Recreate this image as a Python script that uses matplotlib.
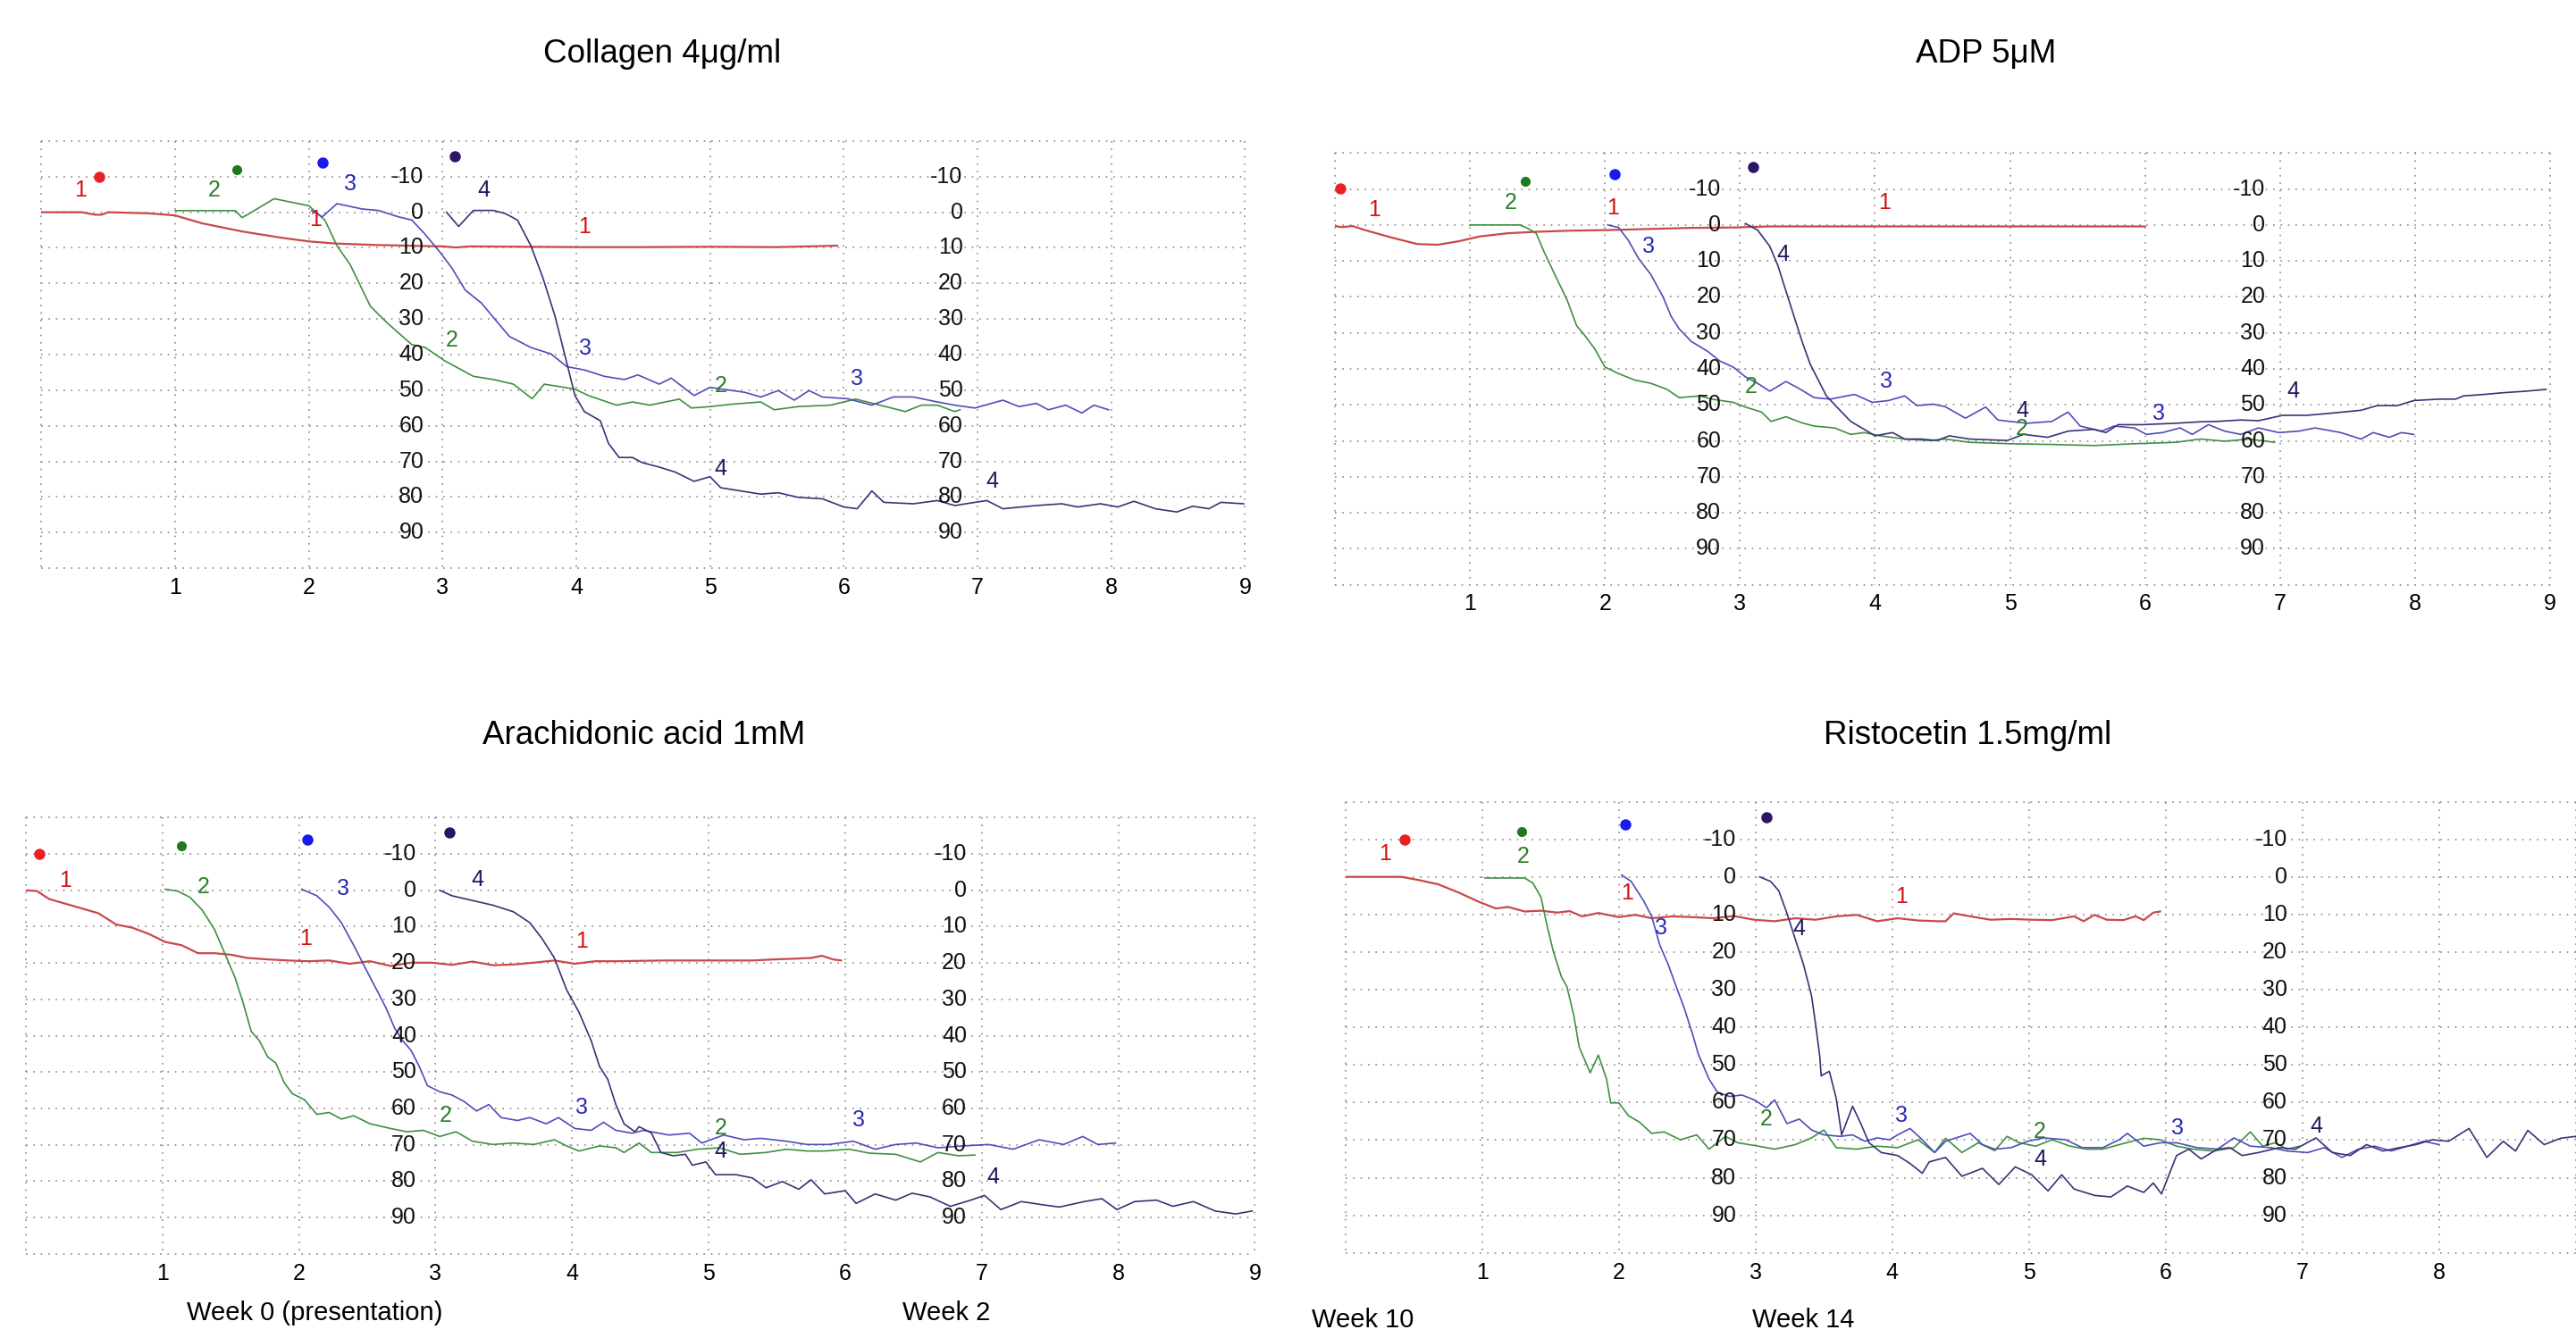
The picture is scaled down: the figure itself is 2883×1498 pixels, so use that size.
import matplotlib
matplotlib.use('Agg')
import matplotlib.pyplot as plt

plt.rcParams['font.family'] = ['Liberation Sans', 'DejaVu Sans']

# ---- Collagen 4ug/ml (week 0) ----
col_t1 = [0, 0.3, 0.4, 0.45, 0.5, 0.8, 1.0, 1.2, 1.5, 1.8, 2.0, 2.2, 2.5, 3.0, 3.1, 3.2, 4.0, 4.5, 5.0, 5.5, 5.95]
col_v1 = [0, 0, 0.7, 0.7, 0, 0.3, 0.9, 3.1, 5.4, 7.2, 8.2, 8.8, 9.2, 9.6, 9.9, 9.6, 9.8, 9.8, 9.7, 9.8, 9.4]
col_t2 = [1.0, 1.45, 1.5, 1.55, 1.74, 2.0, 2.12, 2.21, 2.31, 2.46, 2.58, 2.77, 2.87, 3.01, 3.23, 3.38, 3.53, 3.67,
          3.76, 3.99, 4.09, 4.3, 4.42, 4.55, 4.77, 4.86, 5.0, 5.17, 5.38, 5.48, 5.66, 5.9, 6.09, 6.27, 6.46, 6.58,
          6.7, 6.83, 6.87]
col_v2 = [-0.45, -0.45, 1.5, 0.5, -3.8, -1.8, 2.2, 9.4, 14.8, 26.4, 30.9, 37.2, 38.0, 41.6, 46.1, 47.0, 48.3, 52.4,
          48.3, 49.7, 51.5, 54.2, 53.3, 54.2, 52.5, 55.0, 54.6, 53.9, 53.3, 55.5, 54.6, 54.2, 52.5, 54.2, 56.0, 54.2,
          54.2, 56.0, 55.5]
col_t3 = [2.02, 2.1, 2.21, 2.4, 2.52, 2.67, 2.77, 2.86, 2.98, 3.07, 3.17, 3.29, 3.41, 3.5, 3.66, 3.81, 3.93, 4.06,
          4.21, 4.36, 4.46, 4.62, 4.71, 4.88, 5.0, 5.26, 5.38, 5.51, 5.63, 5.74, 5.84, 6.03, 6.21, 6.37, 6.52, 6.7,
          6.83, 6.98, 7.19, 7.31, 7.44, 7.53, 7.66, 7.78, 7.87, 7.98]
col_v3 = [-0.5, 1.3, -2.4, -0.9, -0.5, 1.3, 2.2, 5.8, 11.2, 15.7, 21.9, 25.5, 30.9, 34.9, 38.0, 39.8, 43.4, 44.3,
          46.1, 47.0, 45.7, 48.3, 46.6, 51.5, 49.2, 50.6, 51.9, 50.1, 52.8, 50.1, 51.9, 52.4, 54.2, 51.9, 51.9, 53.3,
          54.2, 55.0, 52.8, 54.6, 53.7, 55.5, 54.2, 56.4, 54.2, 55.5]
col_t4 = [3.03, 3.12, 3.23, 3.38, 3.47, 3.56, 3.66, 3.75, 3.84, 3.9, 3.96, 3.99, 4.06, 4.18, 4.24, 4.32, 4.42, 4.49,
          4.62, 4.74, 4.88, 5.0, 5.08, 5.23, 5.38, 5.51, 5.66, 5.84, 6.0, 6.1, 6.21, 6.3, 6.52, 6.7, 6.83, 6.98, 7.07,
          7.19, 7.44, 7.63, 7.75, 7.92, 8.05, 8.17, 8.33, 8.49, 8.61, 8.73, 8.82, 8.99]
col_v4 = [0, 4.0, -0.5, -0.5, 0.4, 2.2, 9.4, 18.4, 29.1, 38.0, 47.0, 51.5, 56.0, 58.6, 64.9, 68.9, 68.9, 70.3,
          71.6, 73.0, 75.6, 74.3, 77.4, 78.3, 79.2, 78.8, 80.1, 80.5, 82.8, 83.3, 78.3, 81.5, 81.9, 81.0, 82.4, 81.5,
          81.0, 83.3, 82.4, 81.9, 82.8, 81.9, 82.8, 81.2, 83.3, 84.2, 82.6, 83.3, 81.5, 81.9]

# ---- ADP 5uM (week 2) ----
adp_t1 = [0, 0.05, 0.13, 0.22, 0.43, 0.61, 0.76, 0.92, 1.07, 1.28, 1.49, 1.73, 2.04, 2.34, 2.64, 2.95, 3.22, 6.0]
adp_v1 = [0.3, 0.6, 0.3, 1.4, 3.6, 5.3, 5.5, 4.5, 3.2, 2.3, 1.9, 1.6, 1.4, 1.1, 0.8, 0.7, 0.4, 0.4]
adp_t2 = [1.0, 1.37, 1.43, 1.49, 1.55, 1.64, 1.72, 1.79, 1.85, 1.92, 2.0, 2.1, 2.22, 2.34, 2.46, 2.55, 2.7, 2.79,
          2.95, 3.04, 3.16, 3.23, 3.34, 3.46, 3.55, 3.7, 3.82, 3.92, 4.04, 4.22, 4.4, 4.52, 4.7, 5.0, 5.31, 5.62,
          5.92, 6.23, 6.41, 6.59, 6.77, 6.96]
adp_v2 = [0, 0, 1.0, 2.3, 7.6, 14.7, 20.9, 28.0, 30.7, 34.2, 39.5, 41.3, 43.1, 44.0, 45.7, 48.0, 47.5, 48.4,
          49.3, 50.6, 52.0, 54.6, 53.3, 55.0, 55.9, 56.4, 58.2, 57.7, 58.6, 59.5, 59.9, 59.5, 60.4, 60.8, 61.0, 61.3,
          60.8, 60.4, 59.5, 60.1, 59.5, 60.4]
adp_t3 = [2.02, 2.1, 2.17, 2.25, 2.34, 2.43, 2.49, 2.55, 2.64, 2.76, 2.85, 2.95, 3.04, 3.13, 3.22, 3.34, 3.43, 3.55,
          3.67, 3.79, 3.85, 3.98, 4.1, 4.22, 4.31, 4.43, 4.52, 4.67, 4.82, 4.91, 5.0, 5.13, 5.31, 5.43, 5.52, 5.68,
          5.77, 5.92, 6.01, 6.13, 6.26, 6.35, 6.47, 6.59, 6.71, 6.84, 6.99, 7.14, 7.26, 7.45, 7.6, 7.69, 7.81, 7.9, 7.99]
adp_v3 = [0, 0.7, 4.1, 9.4, 13.8, 20.0, 25.4, 28.9, 32.4, 35.1, 37.8, 39.5, 42.2, 44.0, 46.2, 43.5, 45.3, 48.0,
          48.4, 47.5, 47.1, 49.3, 48.8, 47.5, 50.2, 49.8, 50.5, 53.7, 50.6, 54.2, 54.6, 55.1, 54.6, 52.0, 55.9, 57.3,
          55.9, 56.4, 58.2, 57.7, 56.4, 58.2, 55.5, 57.3, 58.2, 56.4, 57.7, 57.3, 56.4, 57.7, 59.5, 57.7, 59.0, 57.7, 58.2]
adp_t4 = [3.04, 3.13, 3.22, 3.28, 3.34, 3.4, 3.46, 3.52, 3.58, 3.64, 3.73, 3.82, 3.92, 4.0, 4.13, 4.22, 4.34, 4.46,
          4.55, 4.7, 4.98, 5.1, 5.28, 5.43, 5.62, 5.71, 5.8, 5.98, 6.23, 6.41, 6.53, 6.71, 6.84, 7.02, 7.2, 7.38,
          7.6, 7.72, 7.87, 7.99, 8.18, 8.3, 8.36, 8.51, 8.66, 8.82, 8.97]
adp_v4 = [-0.4, 1.4, 5.9, 11.2, 18.3, 25.4, 32.4, 38.7, 43.1, 47.5, 51.1, 54.6, 56.8, 58.6, 57.7, 59.5, 59.5, 59.9,
          58.6, 59.5, 59.9, 58.2, 59.0, 57.3, 56.8, 57.7, 55.5, 55.5, 55.1, 54.7, 54.6, 54.2, 54.4, 52.9, 52.9, 52.3,
          51.5, 50.2, 50.2, 48.8, 48.4, 48.4, 47.5, 47.1, 46.6, 46.2, 45.7]

# ---- Arachidonic acid 1mM (week 10) ----
aa_t1 = [0, 0.08, 0.17, 0.29, 0.41, 0.53, 0.66, 0.78, 0.9, 1.02, 1.14, 1.26, 1.38, 1.5, 1.62, 1.77, 1.92, 2.07,
         2.22, 2.37, 2.52, 2.67, 2.82, 2.97, 3.12, 3.27, 3.42, 3.57, 3.72, 3.87, 4.02, 4.17, 4.32, 4.68, 5.0, 5.32,
         5.48, 5.63, 5.75, 5.83, 5.91, 5.97]
aa_v1 = [0, 0.2, 2.4, 3.7, 5.0, 6.3, 9.4, 10.3, 12.0, 14.2, 15.1, 17.3, 17.3, 17.7, 18.6, 19.0, 19.3, 19.5,
         19.3, 20.2, 19.5, 20.8, 19.9, 19.9, 20.5, 19.6, 20.6, 20.4, 19.9, 19.3, 20.2, 19.5, 19.5, 19.3, 19.3, 19.3,
         19.0, 18.8, 18.6, 18.0, 19.0, 19.3]
aa_t2 = [1.02, 1.11, 1.2, 1.29, 1.38, 1.45, 1.53, 1.59, 1.65, 1.71, 1.77, 1.83, 1.89, 1.95, 2.04, 2.13, 2.22, 2.31,
         2.4, 2.52, 2.67, 2.79, 2.91, 3.03, 3.15, 3.27, 3.42, 3.57, 3.72, 3.87, 3.96, 4.05, 4.2, 4.32, 4.38, 4.49,
         4.58, 4.77, 4.92, 5.08, 5.23, 5.42, 5.57, 5.72, 5.85, 6.03, 6.18, 6.37, 6.55, 6.68, 6.83, 6.95]
aa_v2 = [-0.3, 0.2, 1.9, 5.4, 10.7, 16.8, 23.9, 30.9, 38.8, 41.4, 45.8, 47.5, 52.8, 55.9, 57.6, 61.6, 61.1, 62.9,
         62.0, 64.2, 65.5, 66.4, 66.0, 67.7, 66.4, 69.0, 69.9, 69.5, 69.9, 68.6, 70.3, 71.7, 70.3, 70.8, 72.1, 69.5,
         72.1, 72.1, 71.2, 70.8, 72.6, 72.1, 71.2, 71.7, 71.7, 71.2, 72.3, 72.6, 74.7, 72.1, 73.0, 72.8]
aa_t3 = [2.02, 2.13, 2.22, 2.31, 2.4, 2.46, 2.52, 2.58, 2.64, 2.7, 2.76, 2.82, 2.88, 2.94, 3.03, 3.12, 3.21, 3.3,
         3.39, 3.48, 3.6, 3.69, 3.81, 3.9, 4.02, 4.14, 4.23, 4.32, 4.44, 4.52, 4.71, 4.86, 4.95, 5.11, 5.26, 5.38,
         5.57, 5.72, 5.88, 6.06, 6.22, 6.37, 6.52, 6.68, 6.86, 7.05, 7.23, 7.42, 7.6, 7.74, 7.85, 7.98]
aa_v3 = [-0.3, 1.5, 4.6, 8.9, 15.1, 19.5, 23.9, 28.2, 32.6, 37.9, 41.4, 44.0, 48.4, 53.7, 55.4, 56.3, 58.1, 60.7,
         58.9, 62.5, 63.3, 62.5, 64.2, 62.5, 65.5, 66.0, 63.8, 66.0, 66.8, 66.0, 67.3, 66.8, 69.5, 67.3, 68.6, 68.2,
         69.0, 69.9, 69.9, 69.0, 71.2, 69.9, 69.5, 70.8, 70.3, 69.9, 71.2, 68.6, 69.9, 67.7, 69.9, 69.5]
aa_t4 = [3.03, 3.12, 3.27, 3.42, 3.57, 3.69, 3.78, 3.87, 3.96, 4.05, 4.14, 4.2, 4.26, 4.32, 4.38, 4.46, 4.49, 4.58,
         4.65, 4.74, 4.83, 4.88, 4.98, 5.05, 5.2, 5.32, 5.42, 5.54, 5.66, 5.75, 5.85, 6.0, 6.08, 6.22, 6.37, 6.49,
         6.62, 6.77, 6.92, 7.02, 7.14, 7.29, 7.45, 7.57, 7.75, 7.88, 7.99, 8.12, 8.28, 8.4, 8.55, 8.71, 8.86, 8.98]
aa_v4 = [0, 1.5, 2.8, 4.1, 5.9, 8.9, 13.3, 18.6, 27.4, 33.5, 41.4, 48.4, 51.9, 58.9, 64.2, 66.4, 65.0, 66.7,
         72.1, 73.0, 72.6, 75.6, 74.7, 78.2, 78.2, 79.1, 81.8, 80.1, 82.2, 79.6, 83.5, 82.6, 86.1, 83.5, 85.2, 83.3,
         84.3, 86.9, 85.2, 83.9, 87.8, 85.6, 86.5, 87.1, 85.6, 84.8, 87.8, 85.6, 85.2, 86.9, 85.6, 88.2, 89.0, 88.2]

# ---- Ristocetin 1.5mg/ml (week 14) ----
ris_t1 = [0, 0.41, 0.53, 0.68, 0.83, 0.98, 1.1, 1.19, 1.31, 1.43, 1.55, 1.64, 1.73, 1.85, 2.0, 2.12, 2.24, 2.39,
          2.54, 2.69, 2.84, 2.99, 3.14, 3.29, 3.44, 3.59, 3.74, 3.89, 4.04, 4.19, 4.34, 4.39, 4.45, 4.57, 4.72, 4.87,
          5.02, 5.17, 5.33, 5.4, 5.48, 5.57, 5.69, 5.78, 5.84, 5.91, 5.96]
ris_v1 = [0, 0, 0.8, 2.0, 4.2, 6.7, 8.4, 8.0, 9.2, 9.0, 9.5, 9.1, 10.5, 9.6, 10.7, 10.1, 11.0, 10.5,
          10.7, 11.0, 10.4, 11.4, 11.8, 11.0, 11.4, 10.5, 10.1, 11.8, 11.0, 11.6, 11.8, 11.8, 9.7, 10.5, 11.4, 11.2,
          11.4, 11.5, 10.5, 11.8, 10.1, 11.4, 11.5, 10.5, 11.5, 9.5, 9.2]
ris_t2 = [1.02, 1.31, 1.37, 1.43, 1.47, 1.52, 1.58, 1.62, 1.67, 1.71, 1.76, 1.79, 1.85, 1.91, 1.94, 2.0, 2.07, 2.15,
          2.24, 2.33, 2.45, 2.57, 2.66, 2.78, 2.87, 3.02, 3.14, 3.29, 3.41, 3.5, 3.59, 3.74, 3.89, 4.04, 4.19, 4.31,
          4.39, 4.51, 4.63, 4.75, 4.84, 4.93, 5.05, 5.17, 5.3, 5.42, 5.54, 5.66, 5.84, 5.96, 6.08, 6.2, 6.35, 6.5,
          6.62, 6.71, 6.8, 6.89, 6.98]
ris_v2 = [0.3, 0.3, 1.6, 5.4, 12.2, 19.8, 26.6, 29.2, 36.8, 45.3, 49.5, 52.1, 47.4, 53.8, 60.1, 60.1, 63.5, 65.2,
          68.2, 67.8, 69.9, 68.6, 72.4, 69.0, 70.7, 71.6, 72.4, 71.2, 69.4, 67.3, 72.0, 72.4, 71.6, 72.0, 69.9, 73.3,
          69.5, 73.3, 70.7, 72.8, 69.0, 70.7, 71.6, 69.9, 71.6, 72.4, 72.4, 71.2, 69.5, 69.9, 71.6, 72.4, 72.9, 72.0,
          67.8, 71.6, 70.7, 72.4, 71.6]
ris_t3 = [2.02, 2.09, 2.18, 2.24, 2.3, 2.36, 2.42, 2.48, 2.54, 2.58, 2.66, 2.72, 2.81, 2.9, 2.99, 3.08, 3.14, 3.23,
          3.32, 3.41, 3.5, 3.62, 3.71, 3.8, 3.89, 3.98, 4.04, 4.13, 4.22, 4.31, 4.39, 4.57, 4.66, 4.75, 4.87, 4.99,
          5.11, 5.27, 5.39, 5.54, 5.66, 5.72, 5.84, 5.96, 6.08, 6.23, 6.38, 6.5, 6.62, 6.77, 6.89, 7.04, 7.16, 7.29,
          7.41, 7.53, 7.65, 7.77, 7.89, 8.0]
ris_v3 = [-0.5, 1.2, 6.3, 10.5, 18.2, 23.2, 29.2, 35.1, 41.9, 47.0, 53.8, 57.2, 58.4, 58.0, 59.3, 61.4, 59.3, 65.6,
          64.4, 67.3, 68.6, 69.0, 68.6, 70.3, 69.4, 69.9, 68.6, 66.9, 69.9, 73.3, 70.3, 68.2, 71.2, 72.4, 72.0, 70.3,
          69.4, 69.9, 72.0, 72.0, 69.9, 68.2, 71.6, 70.7, 70.7, 72.0, 72.4, 69.4, 71.6, 72.0, 72.9, 73.3, 72.0, 74.6,
          72.4, 71.6, 72.9, 71.6, 70.3, 71.2]
ris_t4 = [3.03, 3.11, 3.17, 3.23, 3.29, 3.35, 3.41, 3.44, 3.47, 3.48, 3.54, 3.59, 3.63, 3.71, 3.77, 3.83, 3.92, 4.04,
          4.13, 4.22, 4.27, 4.39, 4.51, 4.66, 4.78, 4.9, 5.02, 5.14, 5.24, 5.33, 5.48, 5.6, 5.72, 5.84, 5.91, 5.97,
          6.08, 6.17, 6.26, 6.38, 6.47, 6.56, 6.68, 6.83, 6.95, 7.1, 7.22, 7.35, 7.47, 7.59, 7.71, 7.83, 7.95, 8.07,
          8.22, 8.35, 8.47, 8.56, 8.65, 8.77, 8.89, 9.0]
ris_v4 = [0, 1.2, 3.7, 9.7, 16.5, 23.2, 31.7, 39.4, 47.8, 52.9, 51.7, 58.9, 68.6, 61.0, 65.6, 70.7, 73.3, 74.1,
          76.2, 78.8, 75.8, 74.6, 79.6, 77.5, 81.8, 77.1, 79.2, 83.5, 79.2, 83.0, 84.7, 85.1, 82.2, 83.9, 81.4, 84.3,
          74.1, 72.4, 75.0, 72.4, 72.0, 74.1, 73.3, 72.0, 72.4, 69.4, 73.3, 74.1, 71.2, 72.9, 72.0, 71.2, 69.9, 70.3,
          66.9, 74.6, 70.3, 72.9, 67.4, 71.2, 69.5, 69.0]

titles = ['Collagen 4μg/ml', 'ADP 5μM', 'Arachidonic acid 1mM', 'Ristocetin 1.5mg/ml']
week_labels = ['Week 0 (presentation)', 'Week 2', 'Week 10', 'Week 14']
y_labels = [-10, 0, 10, 20, 30, 40, 50, 60, 70, 80, 90]

# number labels next to the curves: (text, x, y)
col_tags = [('1', 0.29, -6.1), ('2', 1.29, -6.1), ('3', 2.31, -8.0), ('4', 3.31, -6.1), ('1', 2.05, 2.0),
            ('2', 3.07, 36), ('3', 4.07, 38.2), ('1', 4.06, 4.0), ('2', 5.08, 48.8), ('3', 6.1, 46.7),
            ('4', 5.08, 72.2), ('4', 7.11, 75.7)]
adp_tags = [('1', 0.29, -4.3), ('2', 1.3, -6.1), ('1', 2.06, -4.8), ('3', 2.32, 6.1), ('4', 3.32, 8.1),
            ('1', 4.07, -6.1), ('2', 3.08, 45), ('3', 4.08, 43.5), ('4', 5.09, 51.6), ('2', 5.09, 56.6),
            ('3', 6.1, 52.4), ('4', 7.1, 46.2)]
aa_tags = [('1', 0.29, -2.6), ('2', 1.3, -0.9), ('3', 2.32, -0.4), ('4', 3.31, -2.9), ('1', 2.05, 13.3),
           ('2', 3.07, 62), ('1', 4.07, 14), ('3', 4.07, 59.8), ('2', 5.09, 65.5), ('4', 5.09, 71.7),
           ('3', 6.1, 63.3), ('4', 7.08, 79)]
ris_tags = [('1', 0.29, -6), ('2', 1.3, -5.4), ('1', 2.06, 4.4), ('3', 2.31, 13.5), ('4', 3.32, 13.9),
            ('1', 4.07, 5.3), ('2', 3.08, 64.4), ('3', 4.07, 63.5), ('2', 5.08, 67.8), ('4', 5.08, 75),
            ('3', 6.09, 66.9), ('4', 7.1, 66.3)]

# start markers (x, y) for traces 1..4
col_dots = [(0.43, -9.9), (1.46, -12.0), (2.10, -13.9), (3.09, -15.8)]
adp_dots = [(0.04, -10.1), (1.41, -12.1), (2.07, -14.1), (3.1, -16)]
aa_dots = [(0.1, -10.1), (1.14, -12.3), (2.06, -14), (3.1, -15.9)]
ris_dots = [(0.43, -9.8), (1.29, -12), (2.05, -13.9), (3.08, -15.9)]

line_colors = ['#c94848', '#3f8f3f', '#4d4dbb', '#3d3075']
tag_colors = ['#d01515', '#2a7d2a', '#2a2ab5', '#22195c']
dot_colors = ['#e82222', '#1f7a1f', '#1a1aee', '#2e1466']


def draw_panel(ax, traces, tags, dots, nticks):
    ax.set_xlim(0, 9)
    ax.set_ylim(100, -20)
    for s in ax.spines.values():
        s.set_visible(False)
    ax.set_yticks([])
    ax.set_xticks(range(1, nticks + 1))
    ax.set_xticklabels([str(i) for i in range(1, nticks + 1)], fontsize=18)
    ax.tick_params(axis='x', length=0, pad=7)

    ax.hlines(range(-20, 101, 10), 0, 9, colors='#8a8a8a', linestyles=(0, (1, 4)), lw=1.2, clip_on=False)
    ax.vlines(range(0, 10), -20, 100, colors='#8a8a8a', linestyles=(0, (1, 4)), lw=1.2, clip_on=False)

    for xcol in (2.86, 6.89):
        for v in y_labels:
            ax.text(xcol, v, str(v), ha='right', va='center', fontsize=18, color='#111111')

    for i, (t, v) in enumerate(traces):
        ax.plot(t, v, color=line_colors[i], lw=1.6 if i == 0 else 1.2)

    for i, (x, y) in enumerate(dots):
        ax.plot(x, y, 'o', color=dot_colors[i], markersize=8 if i != 1 else 7)

    for txt, x, y in tags:
        ax.text(x, y, txt, ha='center', va='center', fontsize=18, color=tag_colors[int(txt) - 1])


fig = plt.figure(figsize=(28.83, 14.98), dpi=100)

ax1 = fig.add_axes([0.01607, 0.57534, 0.46722, 0.31926])
ax2 = fig.add_axes([0.51824, 0.56294, 0.47168, 0.32270])
ax3 = fig.add_axes([0.01008, 0.06282, 0.47704, 0.32614])
ax4 = fig.add_axes([0.52232, 0.06356, 0.47755, 0.33730])

draw_panel(ax1, [(col_t1, col_v1), (col_t2, col_v2), (col_t3, col_v3), (col_t4, col_v4)], col_tags, col_dots, 9)
draw_panel(ax2, [(adp_t1, adp_v1), (adp_t2, adp_v2), (adp_t3, adp_v3), (adp_t4, adp_v4)], adp_tags, adp_dots, 9)
draw_panel(ax3, [(aa_t1, aa_v1), (aa_t2, aa_v2), (aa_t3, aa_v3), (aa_t4, aa_v4)], aa_tags, aa_dots, 9)
draw_panel(ax4, [(ris_t1, ris_v1), (ris_t2, ris_v2), (ris_t3, ris_v3), (ris_t4, ris_v4)], ris_tags, ris_dots, 8)

title_pos = [(0.2570, 0.9595), (0.7710, 0.9595), (0.2500, 0.4503), (0.7637, 0.4503)]
for (x, y), t in zip(title_pos, titles):
    fig.text(x, y, t, ha='center', va='center', fontsize=26.5)

week_pos = [(0.1221, 0.0184), (0.3673, 0.0184), (0.5290, 0.0135), (0.6999, 0.0135)]
for (x, y), t in zip(week_pos, week_labels):
    fig.text(x, y, t, ha='center', va='center', fontsize=21)

fig.savefig('out.png', dpi=100)
